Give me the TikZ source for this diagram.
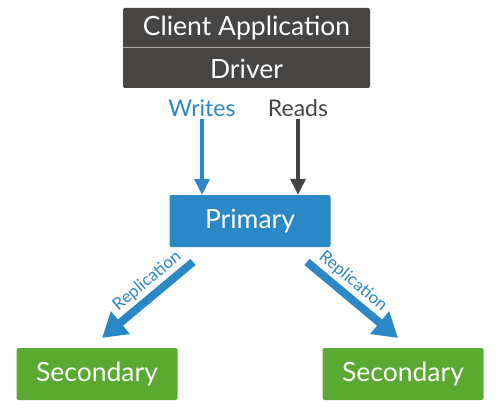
\documentclass[tikz,border=0pt]{standalone}
\usepackage{fontspec}
\setmainfont{Lato}
\usepackage{xcolor}
\usetikzlibrary{arrows.meta}
\definecolor{appgrey}{HTML}{474543}
\definecolor{primblue}{HTML}{2B88C6}
\definecolor{secgreen}{HTML}{5AAA32}
\definecolor{readgrey}{HTML}{444444}

\begin{document}
\begin{tikzpicture}[%
        x=1pt, y=-1pt,
        box/.style={ rounded corners=2pt, inner sep=0pt, minimum height=52pt, minimum width=161pt, text=white, font=\fontsize{26.5}{26.5}\selectfont },%
        boxtext/.style={ inner sep=0pt, text=white, font=\fontsize{26.5}{26.5}\selectfont },%
        label/.style={ inner sep=0pt, font=\fontsize{23}{23}\selectfont },%
        access/.style={ line width=3.5pt, -{Triangle[length=16pt,width=15pt]} },%
        replication/.style={ line width=8pt, draw=primblue, -{Triangle[length=24pt,width=28pt]} },%
        replabel/.style={ sloped, above=3pt, inner sep=0pt, text=primblue, font=\fontsize{17}{17}\selectfont }%
      ]
      \useasboundingbox (0,0) rectangle (500,409);
      \node (app) at (246.5, 48) [box, fill=appgrey, minimum width=247pt, minimum height=80pt]{};
      \draw [white!55!appgrey, line width=1pt] (app.west) -- (app.east);
      \node (client) at (246.5, 28) [boxtext]{Client Application};
      \node (driver) at (246.5, 69) [boxtext]{Driver};
      \node (writes) at (202, 108) [label, text=primblue]{Writes};
      \node (reads) at (298, 108) [label, text=readgrey]{Reads};
      \node (primary) at (250, 221) [box, fill=primblue]{Primary};
      \node (secleft) at (97, 374) [box, fill=secgreen]{Secondary};
      \node (secright) at (403, 374) [box, fill=secgreen]{Secondary};
      \draw [access, draw=primblue] ([yshift=-2pt]writes.south) -- (writes.south |- primary.north);
      \draw [access, draw=readgrey] ([yshift=-2pt]reads.south) -- (reads.south |- primary.north);
      \coordinate (repleftstart) at (193, 262);
      \coordinate (repleftend) at (102, 338);
      \coordinate (reprightstart) at (307, 262);
      \coordinate (reprightend) at (398, 338);
      \draw [replication] (repleftstart) -- node[replabel, pos=0.4]{Replication} (repleftend);
      \draw [replication] (reprightstart) -- node[replabel, pos=0.4]{Replication} (reprightend);
    \end{tikzpicture}
\end{document}
